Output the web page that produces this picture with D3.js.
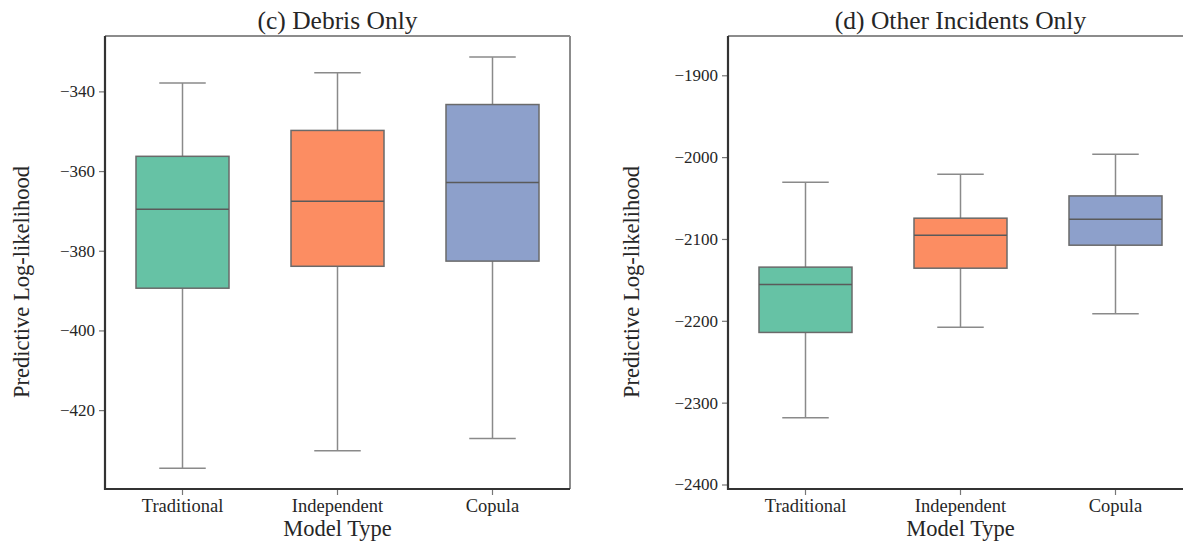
<!DOCTYPE html>
<html lang="en">
  <head>
    <meta charset="UTF-8">
    <title>Predictive Log-likelihood</title>
    <style>
      html, body {
        margin: 0;
        padding: 0;
        background: #fff;
      }

      text {
        font-family: "Liberation Serif", "DejaVu Serif", serif;
        fill: #262626;
      }

      .tick line {
        stroke: #777;
        stroke-width: 1.2px;
      }

      .domain {
        display: none;
      }
    </style>
  </head>
  <body>
    <svg width="1183" height="546"></svg>
    <script src="https://cdn.jsdelivr.net/npm/d3@7"></script>
    <script>

      // categories and colours
      const categories = ['Traditional', 'Independent', 'Copula']
      const colors = ['#66c2a5', '#fc8d62', '#8da0cb']

      // (c) Debris only: whisker ends, quartiles, median
      const debrisLow = [-434.6, -430.2, -427.1]
      const debrisQ1 = [-389.4, -383.9, -382.6]
      const debrisMedian = [-369.6, -367.6, -362.9]
      const debrisQ3 = [-356.3, -349.8, -343.3]
      const debrisHigh = [-337.9, -335.3, -331.4]
      const debrisTicks = [-340, -360, -380, -400, -420]

      // (d) Other incidents only
      const otherLow = [-2318.4, -2208, -2191.4]
      const otherQ1 = [-2214.2, -2135.7, -2107.6]
      const otherMedian = [-2155.6, -2095.4, -2075.8]
      const otherQ3 = [-2134.4, -2074.6, -2047.4]
      const otherHigh = [-2030.6, -2020.9, -1996.5]
      const otherTicks = [-1900, -2000, -2100, -2200, -2300, -2400]

      const svg = d3.select('svg')
      const serif = '"Liberation Serif", "DejaVu Serif", serif'

      function panel (opt) {
        const x = d3.scaleBand().domain(categories).range([opt.left, opt.left + 465])
        const y = d3.scaleLinear().domain(opt.domain).range([489, 36])
        const g = svg.append('g')

        // top / right frame (light), left / bottom (dark)
        g.append('line').attr('x1', opt.left).attr('x2', opt.left + 465)
          .attr('y1', 36).attr('y2', 36).attr('stroke', '#8c8c8c').attr('stroke-width', 2)
        g.append('line').attr('x1', opt.left + 465).attr('x2', opt.left + 465)
          .attr('y1', 36).attr('y2', 489).attr('stroke', '#8c8c8c').attr('stroke-width', 2)

        const boxW = x.bandwidth() * 0.6
        const data = categories.map((c, i) => ({
          name: c,
          color: colors[i],
          low: opt.low[i],
          q1: opt.q1[i],
          med: opt.med[i],
          q3: opt.q3[i],
          high: opt.high[i]
        }))

        const box = g.selectAll('.box').data(data).enter().append('g')
          .attr('class', 'box')
          .attr('transform', d => 'translate(' + (x(d.name) + x.bandwidth() / 2) + ',0)')

        // whiskers
        box.append('line').attr('y1', d => y(d.high)).attr('y2', d => y(d.q3))
          .attr('stroke', '#8a8a8a').attr('stroke-width', 1.5)
        box.append('line').attr('y1', d => y(d.q1)).attr('y2', d => y(d.low))
          .attr('stroke', '#8a8a8a').attr('stroke-width', 1.5)
        box.append('line').attr('x1', -boxW / 4).attr('x2', boxW / 4)
          .attr('y1', d => y(d.high)).attr('y2', d => y(d.high))
          .attr('stroke', '#8a8a8a').attr('stroke-width', 1.5)
        box.append('line').attr('x1', -boxW / 4).attr('x2', boxW / 4)
          .attr('y1', d => y(d.low)).attr('y2', d => y(d.low))
          .attr('stroke', '#8a8a8a').attr('stroke-width', 1.5)

        // boxes
        box.append('rect')
          .attr('x', -boxW / 2).attr('width', boxW)
          .attr('y', d => y(d.q3)).attr('height', d => y(d.q1) - y(d.q3))
          .attr('fill', d => d.color)
          .attr('stroke', '#6a6a6a').attr('stroke-width', 1.5)

        // medians
        box.append('line').attr('x1', -boxW / 2).attr('x2', boxW / 2)
          .attr('y1', d => y(d.med)).attr('y2', d => y(d.med))
          .attr('stroke', '#5a5a5a').attr('stroke-width', 1.5)

        // axes (font attrs set after call, the axis overrides them)
        g.append('g').attr('transform', 'translate(' + opt.left + ',0)')
          .call(d3.axisLeft(y).tickValues(opt.ticks).tickFormat(d3.format('d'))
            .tickSize(6).tickPadding(4))
          .attr('font-family', serif).attr('font-size', 17)
          .selectAll('text').attr('fill', '#333')
        g.append('g').attr('transform', 'translate(0,489)')
          .call(d3.axisBottom(x).tickSize(6).tickPadding(4))
          .attr('font-family', serif).attr('font-size', 18.5)
          .selectAll('text').attr('fill', '#333')

        g.append('line').attr('x1', opt.left).attr('x2', opt.left)
          .attr('y1', 36).attr('y2', 490).attr('stroke', '#333').attr('stroke-width', 2.2)
        g.append('line').attr('x1', opt.left - 1).attr('x2', opt.left + 465)
          .attr('y1', 489).attr('y2', 489).attr('stroke', '#333').attr('stroke-width', 2.2)

        // title and labels
        g.append('text').attr('x', opt.left + 232.5).attr('y', 29)
          .attr('text-anchor', 'middle').style('font-size', '25.5px')
          .text(opt.title)
        g.append('text').attr('x', opt.left + 232.5).attr('y', 536)
          .attr('text-anchor', 'middle').style('font-size', '22.5px')
          .text('Model Type')
        g.append('text')
          .attr('transform', 'translate(' + (opt.left - opt.labelGap) + ',282) rotate(-90)')
          .attr('text-anchor', 'middle').style('font-size', '22.5px')
          .text('Predictive Log-likelihood')
      }

      panel({
        left: 105,
        labelGap: 76,
        domain: [-439.8, -326.1],
        ticks: debrisTicks,
        low: debrisLow, q1: debrisQ1, med: debrisMedian, q3: debrisQ3, high: debrisHigh,
        title: '(c) Debris Only'
      })

      panel({
        left: 728,
        labelGap: 89,
        domain: [-2405.5, -1852],
        ticks: otherTicks,
        low: otherLow, q1: otherQ1, med: otherMedian, q3: otherQ3, high: otherHigh,
        title: '(d) Other Incidents Only'
      })

    </script>
  </body>
</html>
